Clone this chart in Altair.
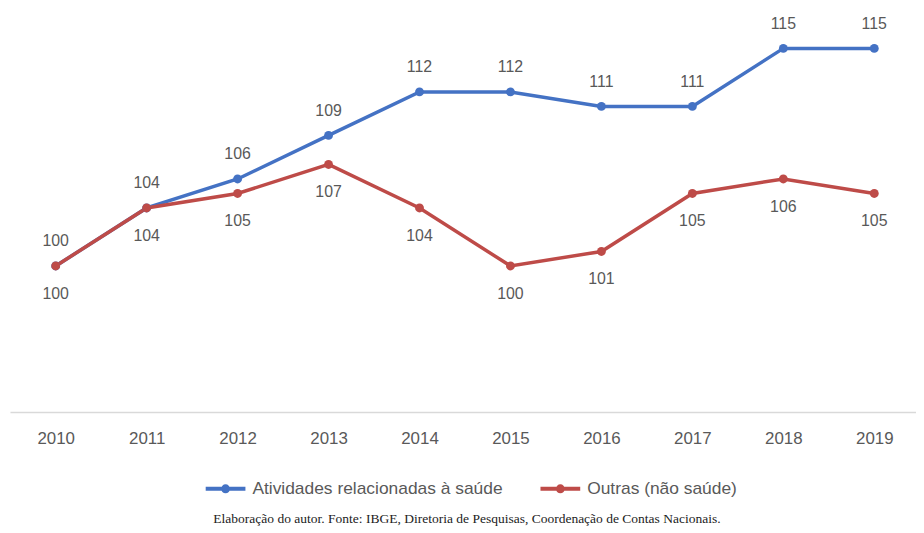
import altair as alt
import pandas as pd

years = [2010, 2011, 2012, 2013, 2014, 2015, 2016, 2017, 2018, 2019]
saude = [100, 104, 106, 109, 112, 112, 111, 111, 115, 115]
outras = [100, 104, 105, 107, 104, 100, 101, 105, 106, 105]
series_names = ["Atividades relacionadas à saúde", "Outras (não saúde)"]
series_colors = ["#4472C4", "#BE4B48"]
caption = "Elaboração do autor. Fonte: IBGE, Diretoria de Pesquisas, Coordenação de Contas Nacionais."

rows = []
for name, vals in zip(series_names, [saude, outras]):
    for yr, v in zip(years, vals):
        rows.append({"ano": yr, "valor": v, "serie": name})
df = pd.DataFrame(rows)

legend_path = ("M-1,0L1,0 "
               "M-0.125,0A0.125,0.125 0 1,1 0.125,0A0.125,0.125 0 1,1 -0.125,0")

x_enc = alt.X("ano:Q",
              scale=alt.Scale(domain=[2009.4976, 2019.4587], nice=False, zero=False),
              axis=alt.Axis(values=years, format="d", title=None, grid=False,
                            ticks=False, tickSize=0, labelPadding=19,
                            labelFont="Liberation Sans", labelFontSize=17,
                            labelColor="#595959", domainColor="#D9D9D9",
                            domainWidth=1.5, labelFlush=False))
y_enc = alt.Y("valor:Q", scale=alt.Scale(domain=[89.93, 117.53], nice=False, zero=False),
              axis=None)
color_enc = alt.Color("serie:N",
                      scale=alt.Scale(domain=series_names, range=series_colors),
                      legend=alt.Legend(title=None, orient="none", direction="horizontal",
                                        legendX=195, legendY=458,
                                        symbolType=legend_path, symbolSize=1600,
                                        symbolStrokeWidth=4, columnPadding=30,
                                        labelOffset=5, labelLimit=400,
                                        labelFont="Liberation Sans", labelFontSize=17.5,
                                        labelColor="#595959"))

base = alt.Chart(df)

lines = base.mark_line(strokeWidth=3.5).encode(x=x_enc, y=y_enc, color=color_enc)
points = base.mark_point(filled=True, size=80, opacity=1, shape="circle").encode(
    x=x_enc, y=y_enc, color=alt.Color("serie:N", scale=alt.Scale(domain=series_names, range=series_colors), legend=None))

labels_top = base.transform_filter(alt.datum.serie == series_names[0]).mark_text(
    dy=-25, font="Liberation Sans", fontSize=16, color="#595959", baseline="middle"
).encode(x=x_enc, y=y_enc, text=alt.Text("valor:Q", format="d"))

labels_bot = base.transform_filter(alt.datum.serie == series_names[1]).mark_text(
    dy=28, font="Liberation Sans", fontSize=16, color="#595959", baseline="middle"
).encode(x=x_enc, y=y_enc, text=alt.Text("valor:Q", format="d"))

chart = alt.layer(lines, points, labels_top, labels_bot).properties(
    width=912, height=403,
    padding={"left": 2, "top": 2, "right": 0, "bottom": 0},
    title=alt.TitleParams(text=caption, orient="bottom", anchor="middle",
                          font="Liberation Serif", fontSize=13.6, fontWeight="normal",
                          color="#222222", offset=13, dx=4),
).configure_view(stroke=None)

chart.save("out.html", embed_options={"renderer": "svg", "actions": False})
